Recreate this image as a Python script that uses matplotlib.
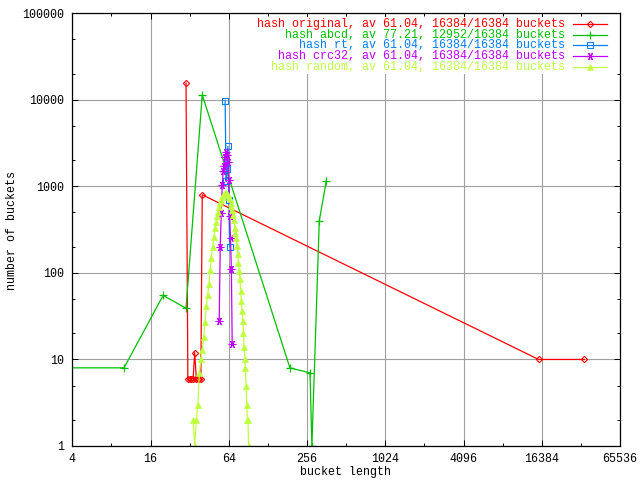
import matplotlib
matplotlib.use("Agg")
import matplotlib.pyplot as plt
from matplotlib.ticker import FixedLocator, FixedFormatter, NullFormatter
from matplotlib.lines import Line2D
from matplotlib.patches import Rectangle

plt.rcParams['font.family'] = ['Liberation Mono', 'DejaVu Sans Mono']

# ---- data (bucket length -> number of buckets) ----
orig_x = [30, 31, 32, 33, 34, 35, 36, 37, 38, 39, 40, 15500, 34800]
orig_y = [15600, 6, 6, 6, 6, 12, 6, 6, 6, 6, 800, 10, 10]

abcd_x = [1, 10, 20, 30, 40, 189, 270, 279, 318, 360]
abcd_y = [8, 8, 55, 39, 11400, 8, 7, 1, 400, 1150]

rt_x = [60, 61, 62, 63, 64, 65]
rt_y = [9800, 1140, 1600, 2900, 690, 200]

crc_x = [54, 55, 56, 57, 58, 59, 60, 61, 62, 63, 64, 65, 66, 67, 68]
crc_y = [28, 200, 490, 1040, 1500, 1700, 2200, 2500, 2300, 1900, 1200, 450, 250, 110, 15]

rnd_x = list(range(34, 92))
rnd_y = [2, 1, 2, 3, 7, 10, 13, 18, 27, 42, 56, 75, 108, 150, 200, 260, 330, 390,
         450, 510, 580, 640, 700, 750, 800, 820, 830, 840, 820, 790, 760, 710, 650,
         600, 540, 470, 410, 330, 290, 250, 205, 165, 130, 105, 85, 62, 48, 36, 28,
         20, 14, 10, 8, 5, 3, 2, 2, 1]

labels = [
    "hash original, av 61.04, 16384/16384 buckets",
    "hash abcd, av 77.21, 12952/16384 buckets",
    "hash rt, av 61.04, 16384/16384 buckets",
    "hash crc32, av 61.04, 16384/16384 buckets",
    "hash random, av 61.04, 16384/16384 buckets",
]
colors = ['#ff0000', '#00c000', '#0080ff', '#c000ff', '#c0ff40']

xticks = [4, 16, 64, 256, 1024, 4096, 16384, 65536]
xtick_labels = ['4', '16', '64', '256', '1024', '4096', '16384', '65536']
xminor = [8, 32, 128, 512, 2048, 8192, 32768]
yticks = [1, 10, 100, 1000, 10000, 100000]
ytick_labels = ['1', '10', '100', '1000', '10000', '100000']
yminor = [m * 10 ** e for e in range(5) for m in (2, 5)]

# ---- figure ----
W, H = 640, 480
fig = plt.figure(figsize=(6.4, 4.8), dpi=100)
L, R, T, B = 72.3, 620, 13.3, 446
ax = fig.add_axes([L / W, 1 - B / H, (R - L) / W, (B - T) / H])
ax.set_xscale('log', base=2)
ax.set_yscale('log')
ax.set_xlim(4, 65536)
ax.set_ylim(1, 100000)

ax.xaxis.set_major_locator(FixedLocator(xticks))
ax.xaxis.set_major_formatter(FixedFormatter(xtick_labels))
ax.xaxis.set_minor_locator(FixedLocator(xminor))
ax.xaxis.set_minor_formatter(NullFormatter())
ax.yaxis.set_major_locator(FixedLocator(yticks))
ax.yaxis.set_major_formatter(FixedFormatter(ytick_labels))
ax.yaxis.set_minor_locator(FixedLocator(yminor))
ax.yaxis.set_minor_formatter(NullFormatter())

ax.tick_params(which='both', direction='in', top=True, right=True, width=0.72,
               labelsize=8.4, colors='black')
ax.tick_params(which='major', length=4.3)
ax.tick_params(which='minor', length=2.5)
ax.tick_params(axis='x', pad=5)
ax.tick_params(axis='y', pad=5.5)
for s in ax.spines.values():
    s.set_linewidth(0.9)
    s.set_zorder(5)

ax.set_axisbelow(True)
ax.grid(True, which='major', color='#a0a0a0', linewidth=0.8)

# legend background box (covers grid)
ax.add_patch(Rectangle((250 / W, 1 - 74 / H), (R - 250) / W, (74 - 17) / H,
                       transform=fig.transFigure, facecolor='white',
                       edgecolor='none', zorder=1))

lw = 0.9
series = [
    (orig_x, orig_y, dict(marker='D', ms=3.2, mfc='none', mew=0.8)),
    (abcd_x, abcd_y, dict(marker='+', ms=5.5, mew=0.9)),
    (rt_x, rt_y, dict(marker='s', ms=4.3, mfc='none', mew=0.8)),
    (crc_x, crc_y, dict(marker=(6, 2, 90), ms=5.5, mew=0.8)),
    (rnd_x, rnd_y, dict(marker='^', ms=3.8, mew=0.5)),
]
for (xs, ys, mk), c in zip(series, colors):
    ax.plot(xs, ys, color=c, lw=lw, zorder=2, **mk)

# manual gnuplot-style key
rows = [24, 34.7, 45.3, 56, 67.3]
for (xs, ys, mk), c, lab, ry in zip(series, colors, labels, rows):
    yf = 1 - ry / H
    fig.text(565 / W, yf, lab, color=c, ha='right', va='center', fontsize=8.4)
    fig.add_artist(Line2D([573 / W, 607 / W], [yf, yf], color=c, lw=lw,
                          transform=fig.transFigure))
    fig.add_artist(Line2D([590 / W], [yf], color=c, lw=0,
                          transform=fig.transFigure, **mk))

fig.text(345 / W, 1 - 472 / H, 'bucket length', ha='center', va='center', fontsize=8.4)
fig.text(12 / W, 1 - 230 / H, 'number of buckets', ha='center', va='center',
         rotation=90, fontsize=8.4)

fig.savefig('out.png', dpi=100)
